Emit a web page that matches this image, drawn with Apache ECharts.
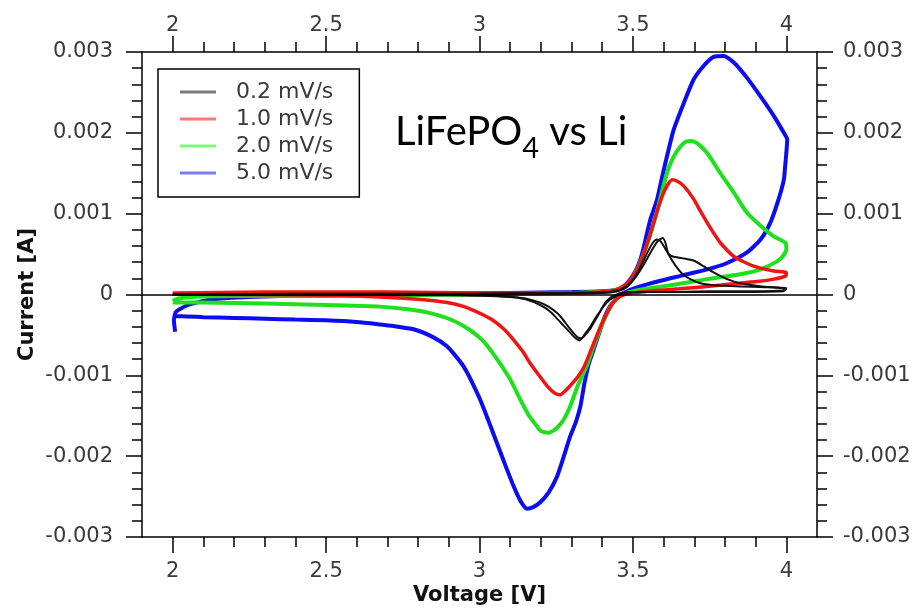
<!DOCTYPE html>
<html>
<head>
<meta charset="utf-8">
<script src="https://cdn.jsdelivr.net/npm/echarts@6/dist/echarts.min.js"></script>
<style>
  html, body { margin: 0; padding: 0; background: #fff; }
  #chart { width: 918px; height: 610px; }
</style>
</head>
<body>
<div id="chart"></div>
<script>
// Cyclic voltammetry of LiFePO4 vs Li at four scan rates.
// Each loop: anodic sweep 2.0 -> 4.0 V, then cathodic sweep back to 2.0 V.
// Points are [voltage (V), current (A)].

const scanRates = ['0.2 mV/s', '1.0 mV/s', '2.0 mV/s', '5.0 mV/s'];

const voltMajorTicks = [2, 2.5, 3, 3.5, 4];
const voltMinorTicks = [2.1, 2.2, 2.3, 2.4, 2.6, 2.7, 2.8, 2.9, 3.1, 3.2, 3.3, 3.4, 3.6, 3.7, 3.8, 3.9];

// 0.2 mV/s, first cycle
const loop02a = [
  [2.0, 0.0], [2.5, 0.00001], [3.0, 0.00001], [3.3, 0.00002], [3.42, 0.00003], [3.46, 0.00006],
  [3.485, 0.00012], [3.503, 0.0002], [3.52, 0.00031], [3.535, 0.00042], [3.55, 0.00054],
  [3.565, 0.00064], [3.578, 0.00068], [3.59, 0.00066], [3.605, 0.00057], [3.62, 0.00047],
  [3.64, 0.00035], [3.66, 0.00026], [3.687, 0.00019], [3.72, 0.00014], [3.78, 0.00011],
  [3.85, 0.0001], [3.93, 0.00009], [4.0, 0.00008],
  [3.99, 0.00005], [3.9, 0.00004], [3.75, 0.00004], [3.6, 0.00003], [3.5, 0.00003], [3.46, 0.00002],
  [3.44, -0.00001], [3.426, -0.00004], [3.41, -0.0001], [3.394, -0.0002], [3.375, -0.00031],
  [3.361, -0.0004], [3.345, -0.00048], [3.332, -0.00054], [3.32, -0.00053], [3.305, -0.00047],
  [3.29, -0.0004], [3.27, -0.0003], [3.253, -0.00023], [3.225, -0.00015], [3.198, -0.0001],
  [3.15, -0.00005], [3.111, -0.00003], [3.0, -0.00001], [2.8, 0.0], [2.5, 0.0], [2.0, 0.0]
];

// 0.2 mV/s, later cycle with the broader shoulder
const loop02b = [
  [2.0, 0.0], [3.0, 0.00001], [3.4, 0.00002], [3.45, 0.00004], [3.48, 0.00009], [3.51, 0.00022],
  [3.54, 0.0004], [3.565, 0.00057], [3.583, 0.00067], [3.597, 0.0007], [3.606, 0.00064],
  [3.615, 0.00051], [3.63, 0.00047], [3.66, 0.00045], [3.698, 0.00042], [3.73, 0.00035],
  [3.76, 0.00028], [3.807, 0.00019], [3.85, 0.00014], [3.92, 0.0001], [4.0, 0.00007],
  [3.99, 0.00004], [3.8, 0.00003], [3.55, 0.00003], [3.47, 0.00002], [3.445, -0.00002],
  [3.42, -0.00008], [3.4, -0.00017], [3.38, -0.0003], [3.36, -0.00043], [3.34, -0.00052],
  [3.325, -0.00057], [3.31, -0.00053], [3.29, -0.00045], [3.263, -0.00034], [3.23, -0.00021],
  [3.198, -0.00013], [3.15, -0.00006], [3.1, -0.00003], [2.9, -0.00001], [2.0, 0.0]
];

// 1.0 mV/s
const loop10 = [
  [2.0, 0.00002], [2.3, 0.00003], [2.7, 0.00003], [3.0, 0.00002], [3.3, 0.00002], [3.42, 0.00004],
  [3.46, 0.00008], [3.49, 0.00017], [3.515, 0.00032], [3.535, 0.0005], [3.555, 0.00073],
  [3.575, 0.00098], [3.595, 0.00121], [3.612, 0.00135], [3.628, 0.00142], [3.645, 0.0014],
  [3.666, 0.00134], [3.698, 0.00118], [3.72, 0.00103], [3.742, 0.00089], [3.765, 0.00075],
  [3.785, 0.00064], [3.829, 0.00047], [3.894, 0.00035], [3.959, 0.00029], [4.0, 0.00027],
  [3.998, 0.00023], [3.96, 0.00019], [3.905, 0.00016], [3.82, 0.00013], [3.742, 0.0001],
  [3.65, 0.00007], [3.579, 0.00005], [3.5, 0.00002], [3.46, -0.00002], [3.44, -0.00008],
  [3.42, -0.0002], [3.4, -0.00035], [3.38, -0.00053], [3.36, -0.00072], [3.34, -0.0009],
  [3.32, -0.00102], [3.3, -0.00111], [3.28, -0.00119], [3.263, -0.00124], [3.245, -0.00122],
  [3.22, -0.00113], [3.19, -0.00098], [3.165, -0.00085], [3.14, -0.0007], [3.111, -0.00056],
  [3.08, -0.00043], [3.04, -0.00031], [3.0, -0.00023], [2.95, -0.00015], [2.894, -0.0001],
  [2.8, -0.00006], [2.676, -0.00003], [2.5, -0.00001], [2.2, 0.0], [2.0, 0.00001]
];

// 2.0 mV/s
const loop20 = [
  [2.0, -0.00008], [2.02, -0.00005], [2.06, -0.00003], [2.2, -0.00002], [2.6, -0.00001], [3.0, 0.0],
  [3.3, 0.00002], [3.42, 0.00004], [3.46, 0.00008], [3.49, 0.00016], [3.515, 0.00032],
  [3.535, 0.0005], [3.555, 0.00072], [3.578, 0.00102], [3.6, 0.00135], [3.618, 0.00158],
  [3.635, 0.00172], [3.655, 0.00183], [3.672, 0.00189], [3.69, 0.0019], [3.71, 0.00187],
  [3.742, 0.00175], [3.785, 0.0015], [3.829, 0.00126], [3.872, 0.00101], [3.916, 0.00085],
  [3.959, 0.00072], [3.997, 0.00064],
  [4.0, 0.00056], [3.99, 0.00048], [3.97, 0.00041], [3.916, 0.00031], [3.85, 0.00025],
  [3.742, 0.00019], [3.633, 0.00012], [3.524, 0.00006], [3.47, 0.00001], [3.45, -0.00004],
  [3.43, -0.00013], [3.41, -0.00028], [3.39, -0.00046], [3.37, -0.00066], [3.35, -0.00088],
  [3.333, -0.00102], [3.318, -0.00115], [3.296, -0.00138], [3.274, -0.00155], [3.25, -0.00166],
  [3.225, -0.00171], [3.2, -0.00169], [3.187, -0.00163], [3.16, -0.00149], [3.133, -0.0013],
  [3.1, -0.00105], [3.057, -0.0008], [3.02, -0.00061], [2.99, -0.0005], [2.948, -0.00039],
  [2.9, -0.0003], [2.84, -0.00023], [2.76, -0.00018], [2.676, -0.00015], [2.5, -0.00013],
  [2.3, -0.00011], [2.1, -0.0001], [2.0, -0.0001]
];

// 5.0 mV/s
const loop50 = [
  [2.008, -0.00046], [2.004, -0.00032], [2.01, -0.00022], [2.024, -0.00018], [2.05, -0.00013],
  [2.078, -0.0001], [2.13, -0.00006], [2.19, -0.00004], [2.35, -0.00002], [2.6, -0.00001],
  [2.9, 0.00001], [3.1, 0.00002], [3.3, 0.00003], [3.4, 0.00004], [3.448, 0.00006], [3.47, 0.0001],
  [3.492, 0.00019], [3.51, 0.0003], [3.524, 0.00043], [3.535, 0.00058], [3.546, 0.00076],
  [3.557, 0.00093], [3.568, 0.00105], [3.579, 0.00118], [3.595, 0.00145], [3.611, 0.00171],
  [3.633, 0.00204], [3.666, 0.00237], [3.698, 0.00266], [3.731, 0.00283], [3.763, 0.00294],
  [3.796, 0.00295], [3.829, 0.00287], [3.872, 0.00268], [3.916, 0.00245], [3.959, 0.00221],
  [3.992, 0.002], [4.003, 0.00192],
  [4.0, 0.00175], [3.996, 0.00158], [3.992, 0.00142], [3.975, 0.00118], [3.948, 0.00089],
  [3.916, 0.00068], [3.872, 0.00052], [3.807, 0.00039], [3.742, 0.00031], [3.655, 0.00023],
  [3.59, 0.00017], [3.524, 0.0001], [3.47, 0.00002], [3.445, -0.00006], [3.426, -0.00014],
  [3.41, -0.00026], [3.394, -0.00043], [3.372, -0.00068], [3.356, -0.00086], [3.342, -0.0011],
  [3.329, -0.00138], [3.314, -0.00158], [3.296, -0.00175], [3.275, -0.002], [3.253, -0.00225],
  [3.225, -0.00245], [3.198, -0.00257], [3.175, -0.00263], [3.155, -0.00265], [3.133, -0.00255],
  [3.111, -0.00237], [3.085, -0.00212], [3.057, -0.00184], [3.03, -0.00157], [3.002, -0.0013],
  [2.975, -0.00108], [2.948, -0.00089], [2.92, -0.00075], [2.894, -0.00064], [2.85, -0.00053],
  [2.785, -0.00043], [2.72, -0.00039], [2.676, -0.00037], [2.6, -0.00034], [2.5, -0.00032],
  [2.4, -0.00031], [2.3, -0.0003], [2.2, -0.00029], [2.1, -0.00028], [2.03, -0.00027], [2.0, -0.00027]
];

const lineColors = { '0.2 mV/s': '#111111', '1.0 mV/s': '#f01414', '2.0 mV/s': '#1ee01e', '5.0 mV/s': '#0c0cf0' };
const legendColors = { '0.2 mV/s': '#7a7a7a', '1.0 mV/s': '#ff7676', '2.0 mV/s': '#7cf77c', '5.0 mV/s': '#7c7cff' };

const labelFont = { fontFamily: 'DejaVu Sans', fontSize: 21, color: '#3a3a3a' };
const axisInk = { color: '#000', width: 1.5 };

function voltAxis(position, ticks, tickLen, withLabels, withLine, margin) {
  return {
    type: 'value', position: position, min: 1.9, max: 4.1,
    axisLine: { show: withLine, onZero: false, lineStyle: axisInk },
    axisTick: { show: true, length: tickLen, customValues: ticks, lineStyle: axisInk },
    axisLabel: Object.assign({ show: withLabels, margin: margin, customValues: ticks }, labelFont),
    splitLine: { show: false }
  };
}

function currentAxis(position, margin) {
  return {
    type: 'value', position: position, min: -0.003, max: 0.003, interval: 0.001,
    axisLine: { show: true, onZero: false, lineStyle: axisInk },
    axisTick: { show: true, length: 16, lineStyle: axisInk },
    minorTick: { show: true, splitNumber: 5, length: 10, lineStyle: axisInk },
    axisLabel: Object.assign({ margin: margin }, labelFont),
    splitLine: { show: false }, minorSplitLine: { show: false }
  };
}

function cvSeries(name, loop, width) {
  return {
    type: 'line', name: name, xAxisIndex: 0, yAxisIndex: 0,
    data: loop, showSymbol: false, symbol: 'none', smooth: 0.2,
    lineStyle: { color: lineColors[name], width: width },
    itemStyle: { color: lineColors[name] }
  };
}

const xBottom = voltAxis('bottom', voltMajorTicks, 16, true, true, 24);
xBottom.name = 'Voltage [V]';
xBottom.nameLocation = 'middle';
xBottom.nameGap = 48;
xBottom.nameMoveOverlap = false;
xBottom.nameTextStyle = { fontFamily: 'DejaVu Sans', fontSize: 21, fontWeight: 'bold', color: '#111' };

const yLeft = currentAxis('left', 29);
yLeft.name = 'Current [A]';
yLeft.nameLocation = 'middle';
yLeft.nameGap = 104;
yLeft.nameMoveOverlap = false;
yLeft.nameTextStyle = { fontFamily: 'DejaVu Sans', fontSize: 21, fontWeight: 'bold', color: '#111' };

// Title pieces: chemical formula with a lowered "4", placed side by side
const titleFont = '40px Lato';
const subFont = '29px Lato';
const meas = document.createElement('canvas').getContext('2d');
meas.font = titleFont;
const wMain = meas.measureText('LiFePO').width;
meas.font = subFont;
const wSub = meas.measureText('4').width;
const titleX = 395, titleTop = 112;

const chart = echarts.init(document.getElementById('chart'), null, { renderer: 'canvas' });

chart.setOption({
  animation: false,
  backgroundColor: '#fff',
  grid: { left: 142, top: 52, width: 675, height: 485, containLabel: false, outerBoundsMode: 'none' },
  xAxis: [
    xBottom,
    voltAxis('bottom', voltMinorTicks, 10, false, false, 0),
    voltAxis('top', voltMajorTicks, 16, true, true, 16),
    voltAxis('top', voltMinorTicks, 10, false, false, 0)
  ],
  yAxis: [yLeft, currentAxis('right', 26)],
  legend: {
    orient: 'vertical', left: 158, top: 69,
    padding: [12, 26, 13, 22], itemGap: 5, itemWidth: 36, itemHeight: 3,
    borderColor: '#000', borderWidth: 1.5, borderRadius: 0, backgroundColor: '#fff',
    textStyle: { fontFamily: 'DejaVu Sans', fontSize: 22, color: '#3a3a3a', padding: [0, 0, 0, 15] },
    data: scanRates.map(n => ({ name: n, icon: 'rect', itemStyle: { color: legendColors[n] } }))
  },
  graphic: [
    { type: 'text', x: titleX, y: titleTop, z: 100, style: { text: 'LiFePO', font: titleFont, fill: '#000' } },
    { type: 'text', x: titleX + wMain, y: titleTop + 22, z: 100, style: { text: '4', font: subFont, fill: '#000' } },
    { type: 'text', x: titleX + wMain + wSub, y: titleTop, z: 100, style: { text: ' vs Li', font: titleFont, fill: '#000' } }
  ],
  series: [
    cvSeries('5.0 mV/s', loop50, 4),
    cvSeries('2.0 mV/s', loop20, 4),
    cvSeries('1.0 mV/s', loop10, 3.5),
    cvSeries('0.2 mV/s', loop02a, 2),
    cvSeries('0.2 mV/s', loop02b, 2),
    {
      type: 'line', name: 'zero', data: [], z: 5, xAxisIndex: 0, yAxisIndex: 0,
      markLine: {
        silent: true, symbol: 'none', label: { show: false },
        lineStyle: { color: '#000', width: 1.5, type: 'solid' },
        data: [{ yAxis: 0 }]
      }
    }
  ]
});
</script>
</body>
</html>
